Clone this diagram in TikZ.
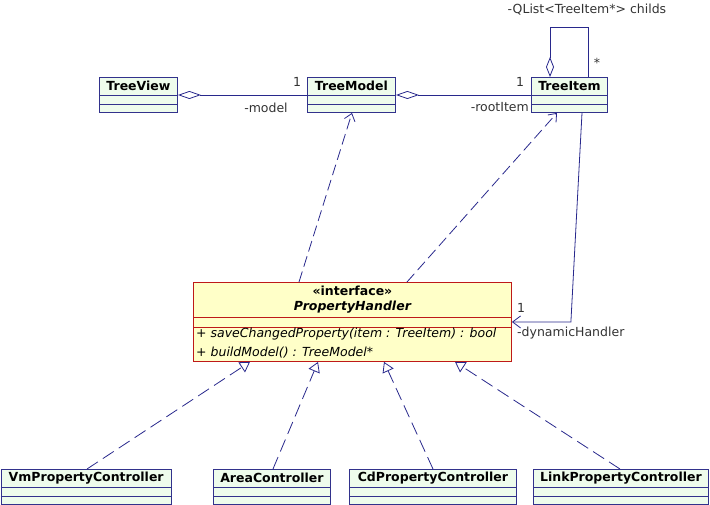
\documentclass[tikz,border=0pt]{standalone}
\usepackage{fontspec}
\setmainfont{DejaVu Sans}
\usetikzlibrary{arrows.meta,calc}
\definecolor{clsfill}{RGB}{238,252,236}
\definecolor{clsdraw}{RGB}{50,50,140}
\definecolor{ifill}{RGB}{255,255,200}
\definecolor{idraw}{RGB}{190,25,25}
\definecolor{lnk}{RGB}{40,40,140}
\newcommand\dgfont{\fontsize{12.5}{14}\selectfont}
\newcommand\umlcls[5]{%
  \node[clsbox, minimum width=#4, anchor=north west] (#1) at (#2,#3) {};
  \draw[clsdraw, line width=0.9pt] ($(#1.north west)+(0,18)$) -- ($(#1.north east)+(0,18)$);
  \draw[clsdraw, line width=0.9pt] ($(#1.north west)+(0,27)$) -- ($(#1.north east)+(0,27)$);
  \node[font=\dgfont\bfseries] at ($(#1.north)+(0,9)$) {#5};
}
\begin{document}
\begin{tikzpicture}[x=1pt,y=-1pt,
  font=\dgfont,
  clsbox/.style={draw=clsdraw, fill=clsfill, line width=0.9pt, inner sep=0pt, minimum height=35},
  assoc/.style={draw=lnk, line width=0.8pt},
  dep/.style={draw=lnk, line width=0.8pt, dash pattern=on 11pt off 5pt},
  real/.style={draw=lnk, line width=0.8pt, dash pattern=on 13pt off 6pt},
  lbl/.style={inner sep=0pt, text=black!80}
]
\useasboundingbox (0,0) rectangle (710,505);

% classes
\umlcls{tv}{99}{77}{78}{TreeView}
\umlcls{tm}{307}{77}{88}{TreeModel}
\umlcls{ti}{531}{77}{76}{TreeItem}
\umlcls{vm}{0.5}{469}{170.5}{VmPropertyController}
\umlcls{ac}{213}{469}{117}{AreaController}
\umlcls{cd}{349}{469}{167}{CdPropertyController}
\umlcls{lk}{533}{469}{175}{LinkPropertyController}

% interface
\node[draw=idraw, fill=ifill, line width=0.9pt, inner sep=0pt, minimum width=318, minimum height=79, anchor=north west] (ph) at (193,282) {};
\draw[idraw, line width=0.9pt] ($(ph.north west)+(0,35)$) -- ($(ph.north east)+(0,35)$);
\draw[idraw, line width=0.9pt] ($(ph.north west)+(0,45)$) -- ($(ph.north east)+(0,45)$);
\node[font=\dgfont\bfseries] (phst) at ($(ph.north)+(0,8.5)$) {«interface»};
\node[font=\dgfont\bfseries\itshape] (phnm) at ($(ph.north)+(0,25.5)$) {PropertyHandler};
\node[anchor=west, font=\dgfont\itshape, inner sep=0pt] (m1) at ($(ph.north west)+(3,52.5)$) {+ saveChangedProperty(item : TreeItem) : bool};
\node[anchor=west, font=\dgfont\itshape, inner sep=0pt] (m2) at ($(ph.north west)+(3,70.5)$) {+ buildModel() : TreeModel*};

% aggregations
\draw[assoc, {Diamond[open,length=23pt,width=8pt]}-] ($(tv.north east)+(0,18)$) -- ($(tm.north west)+(0,18)$);
\draw[assoc, {Diamond[open,length=23pt,width=8pt]}-] ($(tm.north east)+(0,18)$) -- ($(ti.north west)+(0,18)$);
\draw[assoc, {Diamond[open,length=20pt,width=8pt]}-] ($(ti.north west)+(19,0)$) -- ++(0,-50) -| ($(ti.north west)+(57,0)$);

\node[lbl] (l1) at (297,82) {1};
\node[lbl] (lmodel) at (266,108) {-model};
\node[lbl] (l2) at (520,82) {1};
\node[lbl, anchor=east] (lroot) at (529,107) {-rootItem};
\node[lbl] (lstar) at (597,63) {*};
\node[lbl] (lchilds) at (587,10) {-QList<TreeItem*> childs};

% dependencies
\draw[dep, -{Straight Barb[length=7pt,width=11pt]}] ($(ph.north west)+(106,0)$) -- ($(tm.south west)+(45,0)$);
\draw[dep, -{Straight Barb[length=7pt,width=11pt]}] ($(ph.north west)+(214,0)$) -- ($(ti.south west)+(26,0)$);

% association TreeItem -> PropertyHandler
\draw[assoc, -{Straight Barb[length=8pt,width=12pt]}] ($(ti.south west)+(51,0)$) -- ($(ph.east)+(59,0)$) -- (ph.east);
\node[lbl] (l3) at (521,308) {1};
\node[lbl, anchor=west] (ldyn) at (517,333) {-dynamicHandler};

% realizations
\draw[real, -{Triangle[open,length=10pt,width=12pt]}] ($(vm.north west)+(86.5,0)$) -- ($(ph.south west)+(57,0)$);
\draw[real, -{Triangle[open,length=10pt,width=12pt]}] ($(ac.north west)+(60,0)$) -- ($(ph.south west)+(125,0)$);
\draw[real, -{Triangle[open,length=10pt,width=12pt]}] ($(cd.north west)+(84,0)$) -- ($(ph.south west)+(191,0)$);
\draw[real, -{Triangle[open,length=10pt,width=12pt]}] ($(lk.north west)+(87,0)$) -- ($(ph.south west)+(262,0)$);
\end{tikzpicture}
\end{document}
